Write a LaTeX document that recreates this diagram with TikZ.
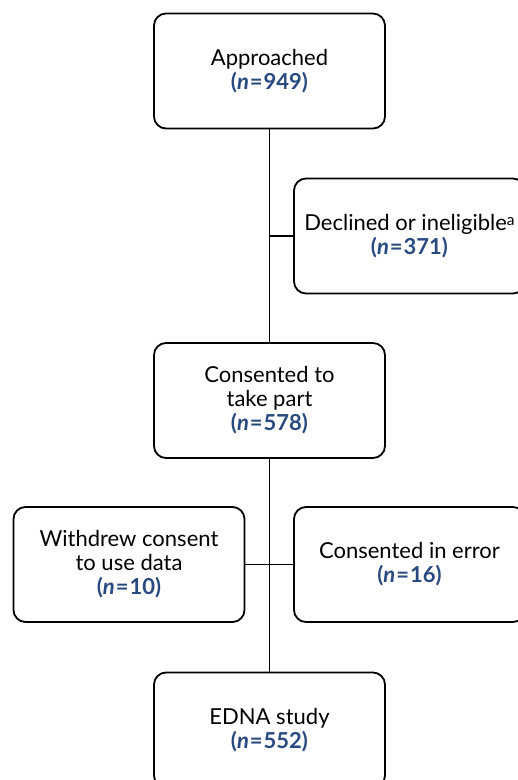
\documentclass[tikz,border=0pt]{standalone}
\usepackage{fontspec}
\setmainfont{Lato}
\definecolor{nblue}{RGB}{40,74,128}
\newcommand{\nval}[1]{{\color{nblue}\bfseries(\textit{n}\kern1pt=\kern1pt#1)}}
\newcommand{\supa}{\raisebox{0.45ex}{\fontsize{15.5}{15.5}\selectfont a}}
\begin{document}
\begin{tikzpicture}[x=1pt,y=-1pt,
  flowbox/.style={draw=black, line width=1.8pt, rounded corners=12pt, fill=white,
    minimum width=231pt, minimum height=115pt, align=center, inner sep=0pt,
    font=\fontsize{22}{24}\selectfont},
  link/.style={draw=black, line width=1.8pt}]
\useasboundingbox (0,0) rectangle (518,780);
\clip (0,0) rectangle (518,780);
\node[flowbox] (a) at (269.5,71) {Approached\\\nval{949}};
\node[flowbox] (b) at (409.5,236) {Declined or ineligible\supa\\\nval{371}};
\node[flowbox] (c) at (269.5,400.5) {Consented to\\take part\\\nval{578}};
\node[flowbox] (d) at (129,564.5) {Withdrew consent\\to use data\\\nval{10}};
\node[flowbox] (e) at (409.5,564.5) {Consented in error\\\nval{16}};
\node[flowbox] (f) at (269.5,730) {EDNA study\\\nval{552}};
\draw[link] (a) -- (c);
\draw[link] (a.south |- b.west) -- (b.west);
\draw[link] (c) -- (f);
\draw[link] (d.east) -- (e.west);
\end{tikzpicture}
\end{document}
